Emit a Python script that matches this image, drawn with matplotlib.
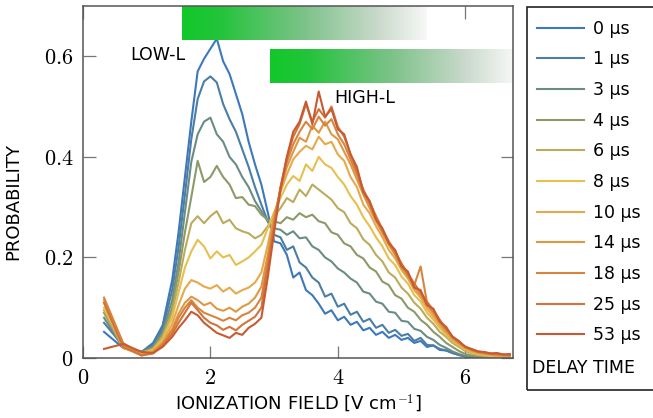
import matplotlib
matplotlib.use("Agg")
import matplotlib.pyplot as plt
import numpy as np
from matplotlib.colors import LinearSegmentedColormap
from matplotlib.patches import Rectangle

plt.rcParams['font.family'] = ['DejaVu Sans']
plt.rcParams['mathtext.fontset'] = 'cm'

field = [0.33, 0.63, 0.92, 1.10, 1.25, 1.4, 1.5, 1.6, 1.7, 1.8, 1.9, 2.0, 2.1, 2.2, 2.3,
         2.4, 2.5, 2.6, 2.7, 2.8, 2.9, 3.0, 3.1, 3.2, 3.3, 3.4, 3.5, 3.6, 3.7, 3.8,
         3.9, 4.0, 4.1, 4.2, 4.3, 4.4, 4.5, 4.6, 4.7, 4.8, 4.9, 5.0, 5.1, 5.2, 5.3,
         5.4, 5.5, 5.6, 5.7, 5.8, 5.9, 6.0, 6.1, 6.2, 6.3, 6.4, 6.5, 6.6, 6.7]

delays = ['0 µs', '1 µs', '3 µs', '4 µs', '6 µs', '8 µs', '10 µs', '14 µs', '18 µs', '25 µs', '53 µs']
colors = ['#3d78bd', '#4a7ea6', '#6a8c86', '#8c9a68', '#bcab5c', '#e6c04e',
          '#e6a94c', '#df9842', '#d8843e', '#d3733a', '#c85a32']

p0 = [0.052, 0.020, 0.012, 0.030, 0.065, 0.155, 0.250, 0.360, 0.470, 0.570, 0.595, 0.615, 0.635, 0.590, 0.565,
      0.525, 0.485, 0.430, 0.385, 0.345, 0.290, 0.232, 0.228, 0.205, 0.160, 0.170, 0.135, 0.125, 0.108, 0.088,
      0.095, 0.075, 0.082, 0.066, 0.072, 0.055, 0.060, 0.046, 0.052, 0.040, 0.046, 0.036, 0.040, 0.030, 0.034,
      0.022, 0.025, 0.016, 0.015, 0.010, 0.006, 0.003, 0.002, 0.001, 0.001, 0.000, 0.001, 0.000, 0.000]
p1 = [0.070, 0.024, 0.012, 0.026, 0.058, 0.135, 0.220, 0.325, 0.435, 0.515, 0.550, 0.560, 0.548, 0.505, 0.475,
      0.450, 0.415, 0.380, 0.340, 0.305, 0.272, 0.245, 0.240, 0.215, 0.222, 0.190, 0.180, 0.160, 0.150, 0.122,
      0.128, 0.102, 0.108, 0.086, 0.092, 0.072, 0.078, 0.060, 0.066, 0.050, 0.056, 0.044, 0.048, 0.034, 0.040,
      0.026, 0.025, 0.018, 0.015, 0.010, 0.006, 0.003, 0.002, 0.001, 0.001, 0.000, 0.000, 0.001, 0.000]
p3 = [0.080, 0.020, 0.012, 0.023, 0.052, 0.115, 0.190, 0.290, 0.390, 0.445, 0.470, 0.478, 0.445, 0.430, 0.400,
      0.385, 0.360, 0.340, 0.312, 0.292, 0.272, 0.258, 0.255, 0.245, 0.252, 0.238, 0.240, 0.222, 0.215, 0.200,
      0.192, 0.178, 0.170, 0.158, 0.150, 0.132, 0.128, 0.112, 0.108, 0.092, 0.090, 0.074, 0.072, 0.058, 0.054,
      0.042, 0.036, 0.026, 0.020, 0.013, 0.008, 0.004, 0.002, 0.002, 0.001, 0.001, 0.000, 0.001, 0.000]
p4 = [0.090, 0.022, 0.010, 0.020, 0.047, 0.100, 0.170, 0.250, 0.320, 0.392, 0.350, 0.360, 0.382, 0.360, 0.345,
      0.318, 0.320, 0.305, 0.302, 0.285, 0.275, 0.272, 0.268, 0.280, 0.275, 0.288, 0.280, 0.285, 0.272, 0.268,
      0.250, 0.245, 0.228, 0.222, 0.205, 0.198, 0.180, 0.172, 0.152, 0.145, 0.125, 0.118, 0.100, 0.092, 0.076,
      0.066, 0.052, 0.042, 0.030, 0.022, 0.014, 0.008, 0.005, 0.003, 0.002, 0.002, 0.001, 0.001, 0.000]
p6 = [0.095, 0.020, 0.010, 0.018, 0.042, 0.090, 0.150, 0.215, 0.268, 0.282, 0.268, 0.282, 0.292, 0.268, 0.275,
      0.258, 0.252, 0.248, 0.238, 0.245, 0.262, 0.282, 0.298, 0.318, 0.310, 0.335, 0.322, 0.345, 0.335, 0.325,
      0.315, 0.298, 0.290, 0.268, 0.258, 0.236, 0.225, 0.205, 0.192, 0.170, 0.160, 0.140, 0.128, 0.110, 0.098,
      0.080, 0.068, 0.052, 0.042, 0.030, 0.022, 0.014, 0.009, 0.006, 0.004, 0.003, 0.002, 0.002, 0.001]
p8 = [0.100, 0.025, 0.008, 0.017, 0.037, 0.080, 0.130, 0.180, 0.212, 0.235, 0.222, 0.198, 0.212, 0.200, 0.205,
      0.185, 0.192, 0.200, 0.212, 0.225, 0.258, 0.290, 0.318, 0.345, 0.362, 0.352, 0.385, 0.372, 0.400, 0.385,
      0.378, 0.360, 0.345, 0.322, 0.305, 0.280, 0.262, 0.240, 0.222, 0.198, 0.185, 0.162, 0.148, 0.125, 0.112,
      0.090, 0.076, 0.060, 0.046, 0.034, 0.025, 0.017, 0.011, 0.008, 0.006, 0.004, 0.003, 0.003, 0.002]
p10 = [0.110, 0.020, 0.006, 0.015, 0.032, 0.068, 0.105, 0.138, 0.155, 0.150, 0.142, 0.138, 0.145, 0.132, 0.140,
       0.128, 0.135, 0.140, 0.150, 0.170, 0.225, 0.285, 0.330, 0.365, 0.395, 0.410, 0.422, 0.415, 0.440, 0.425,
       0.430, 0.405, 0.392, 0.360, 0.340, 0.305, 0.288, 0.262, 0.240, 0.215, 0.198, 0.175, 0.158, 0.135, 0.120,
       0.098, 0.082, 0.065, 0.050, 0.036, 0.027, 0.019, 0.013, 0.010, 0.007, 0.006, 0.004, 0.004, 0.003]
p14 = [0.115, 0.025, 0.005, 0.012, 0.030, 0.058, 0.088, 0.110, 0.122, 0.115, 0.105, 0.110, 0.098, 0.094, 0.100,
       0.092, 0.102, 0.108, 0.120, 0.142, 0.205, 0.278, 0.335, 0.380, 0.410, 0.438, 0.430, 0.462, 0.448, 0.470,
       0.445, 0.435, 0.410, 0.385, 0.355, 0.325, 0.298, 0.272, 0.248, 0.225, 0.205, 0.180, 0.162, 0.140, 0.125,
       0.105, 0.088, 0.070, 0.054, 0.040, 0.030, 0.021, 0.015, 0.011, 0.009, 0.007, 0.006, 0.005, 0.004]
p18 = [0.120, 0.030, 0.006, 0.010, 0.027, 0.054, 0.080, 0.100, 0.115, 0.100, 0.090, 0.085, 0.080, 0.074, 0.080,
       0.075, 0.085, 0.090, 0.100, 0.120, 0.190, 0.268, 0.338, 0.390, 0.425, 0.450, 0.470, 0.455, 0.480, 0.462,
       0.475, 0.445, 0.425, 0.395, 0.365, 0.330, 0.305, 0.278, 0.252, 0.230, 0.208, 0.185, 0.165, 0.145, 0.182,
       0.110, 0.092, 0.073, 0.056, 0.042, 0.031, 0.022, 0.016, 0.012, 0.010, 0.008, 0.007, 0.006, 0.005]
p25 = [0.110, 0.022, 0.005, 0.009, 0.025, 0.048, 0.070, 0.090, 0.110, 0.095, 0.080, 0.070, 0.065, 0.056, 0.062,
       0.055, 0.066, 0.074, 0.082, 0.100, 0.180, 0.260, 0.340, 0.398, 0.440, 0.465, 0.505, 0.470, 0.495, 0.478,
       0.500, 0.460, 0.440, 0.405, 0.372, 0.335, 0.310, 0.282, 0.256, 0.232, 0.212, 0.188, 0.168, 0.148, 0.130,
       0.112, 0.095, 0.076, 0.058, 0.043, 0.032, 0.023, 0.017, 0.013, 0.011, 0.009, 0.008, 0.007, 0.006]
p53 = [0.018, 0.028, 0.012, 0.010, 0.022, 0.042, 0.060, 0.075, 0.092, 0.085, 0.070, 0.060, 0.050, 0.045, 0.040,
       0.050, 0.046, 0.060, 0.068, 0.080, 0.160, 0.250, 0.335, 0.400, 0.450, 0.470, 0.510, 0.465, 0.530, 0.480,
       0.495, 0.455, 0.445, 0.405, 0.380, 0.330, 0.312, 0.275, 0.258, 0.228, 0.215, 0.182, 0.172, 0.140, 0.135,
       0.105, 0.098, 0.072, 0.062, 0.042, 0.034, 0.022, 0.018, 0.013, 0.012, 0.009, 0.010, 0.007, 0.008]

series = [p0, p1, p3, p4, p6, p8, p10, p14, p18, p25, p53]

fig = plt.figure(figsize=(6.53, 4.18), dpi=100)
ax = fig.add_axes([83 / 653, 60 / 418, 430 / 653, 352 / 418])

lines = []
for ys, c, lab in zip(series, colors, delays):
    ln, = ax.plot(field, ys, color=c, lw=1.5, label=lab, zorder=2)
    lines.append(ln)

# gradient bars for LOW-L / HIGH-L (under the tick marks)
bar_cmap = LinearSegmentedColormap.from_list(
    'bar', [(0, '#12c82a'), (0.15, '#22c43a'), (0.5, '#7dc289'), (0.8, '#c9d9cb'), (1.0, '#f7f8f7')])
grad = np.linspace(0, 1, 256).reshape(1, -1)
ax.imshow(grad, cmap=bar_cmap, aspect='auto', extent=[1.55, 5.39, 0.633, 0.70], zorder=2.2)
ax.imshow(grad, cmap=bar_cmap, aspect='auto', extent=[2.93, 6.75, 0.546, 0.613], zorder=2.2)
ax.text(0.74, 0.603, 'LOW-L', fontsize=12.5, va='center', ha='left', zorder=4)
ax.text(3.95, 0.517, 'HIGH-L', fontsize=12.5, va='center', ha='left', zorder=4)

ax.set_xlim(0, 6.75)
ax.set_ylim(0, 0.7)
ax.set_xticks([0, 2, 4, 6])
ax.set_xticklabels([r'$0$', r'$2$', r'$4$', r'$6$'])
ax.set_yticks([0, 0.2, 0.4, 0.6])
ax.set_yticklabels([r'$0$', r'$0.2$', r'$0.4$', r'$0.6$'])
ax.tick_params(direction='in', top=True, right=True, length=9, width=0.9,
               color='#777777', labelsize=16, pad=7)
for s in ax.spines.values():
    s.set_color('#555555')
    s.set_linewidth(1.1)

ax.set_xlabel('IONIZATION FIELD [V cm$^{\\mathsf{-1}}$]', fontsize=13)
ax.xaxis.set_label_coords(0.5, -0.098)
ax.set_ylabel('PROBABILITY', fontsize=13)
ax.yaxis.set_label_coords(-0.142, 0.446)

# legend box on the right
fig.patches.append(Rectangle((527 / 653, 28 / 418), 0.3, 383 / 418, transform=fig.transFigure,
                             fill=False, edgecolor='#222222', lw=1.2))
fig.legend(handles=lines, loc='upper left', bbox_to_anchor=(528 / 653, 1 - 11 / 418),
           frameon=False, fontsize=12.5, handlelength=2.7, handletextpad=0.55,
           labelspacing=0.73, borderpad=0)
fig.text(532 / 653, 1 - 368 / 418, 'DELAY TIME', fontsize=12.5, va='center', ha='left')

fig.savefig('out.png', dpi=100)
